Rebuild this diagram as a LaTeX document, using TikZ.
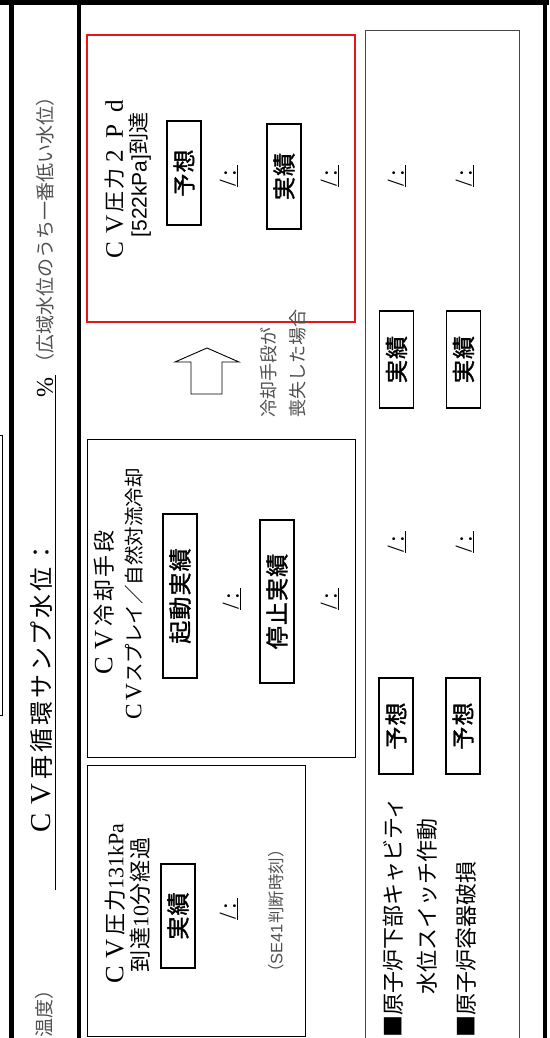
\documentclass[tikz,border=0pt]{standalone}
\usepackage{fontspec}
\usepackage{graphicx}
\setmainfont{Noto Sans CJK JP}
\newfontfamily\ser{Liberation Serif}
\newfontfamily\lsans{Liberation Sans}
\newfontfamily\jpsp[LetterSpace=12]{Noto Sans CJK JP}
\newfontfamily\jpsq[LetterSpace=6]{Noto Sans CJK JP}
\newfontfamily\jpbold[LetterSpace=5,FakeBold=1.5]{Noto Sans CJK JP}
\newcommand{\fw}[1]{\makebox[1.2em]{\scalebox{1.2}{\ser #1}}}
\newcommand{\fsz}[1]{\fontsize{#1}{#1}\selectfont}
\definecolor{gtxt}{RGB}{80,80,80}
\definecolor{pgray}{RGB}{70,70,70}
\definecolor{redbox}{RGB}{235,20,20}
\begin{document}
\begin{tikzpicture}[x=1pt,y=-1pt,
  heavy/.style={line width=5pt},
  frame/.style={draw, line width=0.9pt, inner sep=0pt},
  lab/.style={draw, line width=1.3pt, rotate=90, minimum height=34pt, inner sep=0pt, font=\jpbold\fsz{23}},
  fld/.style={rotate=90, inner sep=0pt, font=\ser\fsz{24}},
  txt/.style={rotate=90, inner sep=0pt},
  note/.style={rotate=90, inner sep=0pt, text=gtxt},
]
\useasboundingbox (0,0) rectangle (549,1038);
% outer heavy frame
\draw[line width=5.5pt] (0,2.5) -- (549,2.5);
\draw[heavy] (11.5,0) -- (11.5,1038);
\draw[line width=3.5pt] (79,0) -- (79,1038);
\draw[line width=4pt] (545,0) -- (545,1038);
% cropped thin box at far left
\draw[line width=0.8pt] (-20,435) rectangle (2.5,715);

% heading column
\node[txt, anchor=south west, font=\jpsp\fsz{24}] (title) at (53,837) {\fw{C}\fw{V}再循環サンプ水位：};
\coordinate (ulA) at (55,890);
\coordinate (ulB) at (55,375);
\draw[line width=0.8pt] (ulA) -- (ulB);
\node[txt, font=\ser\fsz{24}] (pct) at (45,388) {\%};
\node[note, font=\fsz{19}] (wide) at (45,230) {（広域水位のうち一番低い水位）};
\node[note, anchor=east, font=\fsz{19}] (temp) at (44,980) {温度）};

% red box : CV pressure 2Pd
\node[frame, draw=redbox, line width=1.5pt, minimum width=268pt, minimum height=287pt] (redbx) at (221,178.5) {};
\node[txt, font=\jpsq\fsz{21}] (tA1) at (115,178) {\fw{C}\fw{V}圧力\fw{2}\fw{P}\fw{d}};
\node[txt, font=\fsz{21}] (tA2) at (140,175) {{\lsans [522kPa]}到達};
\node[lab, minimum width=104pt] (yosoA) at (184,173) {予想};
\node[fld] (fA1) at (229,176) {\underline{/\,:\,}};
\node[lab, minimum width=105pt] (jisA) at (284,176.5) {実績};
\node[fld] (fA2) at (330,176) {\underline{/\,:\,}};

% hollow arrow and condition note
\draw[line width=0.9pt] (207,348) -- (239,362) -- (222,362) -- (222,394) -- (191,394) -- (191,362) -- (175,362) -- cycle;
\node[note, anchor=west, align=left, font=\fontsize{18}{29}\selectfont] (lost) at (283,418) {冷却手段が\\喪失した場合};

% CV cooling box
\node[frame, minimum width=268pt, minimum height=318pt] (coolbx) at (221,598) {};
\node[txt, font=\jpsp\fsz{22}] (tB1) at (104,605) {\fw{C}\fw{V}冷却手段};
\node[txt, font=\fsz{19.5}] (tB2) at (134,595) {\makebox[1em]{\scalebox{1.2}{\ser C}}\makebox[1em]{\scalebox{1.2}{\ser V}}スプレイ／自然対流冷却};
\node[lab, minimum width=164pt] (kido) at (180,596) {起動実績};
\node[fld] (fB1) at (232,599) {\underline{/\,:\,}};
\node[lab, minimum width=163pt] (teishi) at (277,601.5) {停止実績};
\node[fld] (fB2) at (330,599) {\underline{/\,:\,}};

% CV pressure 131kPa box
\node[frame, minimum width=218pt, minimum height=271pt] (pbx) at (196,901) {};
\node[txt, font=\jpsq\fsz{22}] (tC1) at (115,906) {\fw{C}\fw{V}圧力{\ser 131kPa}};
\node[txt, font=\jpsq\fsz{22}] (tC2) at (140,905) {到達{\ser 10}分経過};
\node[lab, minimum width=104pt] (jisC) at (178,916) {実績};
\node[fld] (fC1) at (229,909) {\underline{/\,:\,}};
\node[note, font=\fsz{16.5}] (se41) at (276,911) {（{\lsans SE41}判断時刻）};

% right panel
\node[draw=pgray, line width=1pt, inner sep=0pt, minimum width=154pt, minimum height=1030pt] (panel) at (442,546) {};
\node[fld] (fD1) at (397,176) {\underline{/\,:\,}};
\node[fld] (fD2) at (465,176) {\underline{/\,:\,}};
\node[lab, minimum width=97pt] (jisD1) at (396.5,359.5) {実績};
\node[lab, minimum width=97pt] (jisD2) at (463.5,359.5) {実績};
\node[fld] (fD3) at (397,542) {\underline{/\,:\,}};
\node[fld] (fD4) at (465,542) {\underline{/\,:\,}};
\node[lab, minimum width=96pt] (yosoD1) at (396,726) {予想};
\node[lab, minimum width=96pt] (yosoD2) at (463,726) {予想};
\node[txt, anchor=west, font=\fsz{22}] (cav1) at (393,1038) {■原子炉下部キャビティ};
\node[txt, anchor=west, font=\fsz{22}] (cav2) at (427,995) {水位スイッチ作動};
\node[txt, anchor=west, font=\fsz{22}] (rv) at (466,1038) {■原子炉容器破損};
\end{tikzpicture}
\end{document}
